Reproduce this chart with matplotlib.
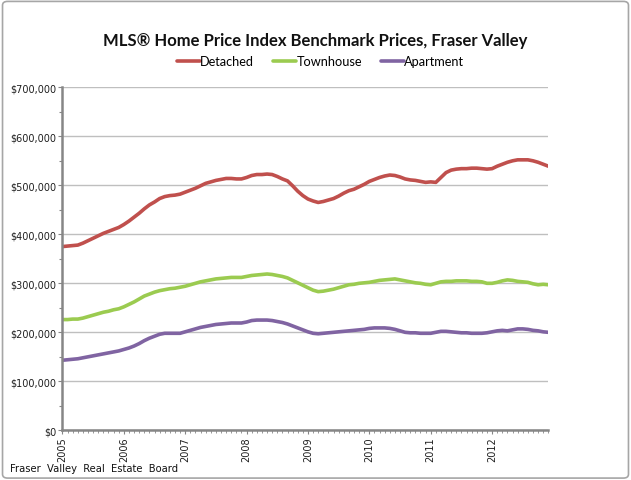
import matplotlib
matplotlib.use("Agg")
import matplotlib.pyplot as plt
from matplotlib.patches import FancyBboxPatch
from matplotlib.ticker import MultipleLocator, FuncFormatter

# ── Data (monthly benchmark prices, $000s, Jan 2005 – Dec 2012) ──────────
years = ["2005", "2006", "2007", "2008", "2009", "2010", "2011", "2012"]

detached = [375, 376, 377, 378, 382, 387, 392, 397, 402, 406, 410, 414,
            420, 427, 435, 443, 452, 460, 466, 473, 477, 479, 480, 482,
            486, 490, 494, 499, 504, 507, 510, 512, 514, 514, 513, 513,
            516, 520, 522, 522, 523, 522, 518, 513, 509, 499, 488, 479,
            472, 468, 465, 467, 470, 473, 478, 484, 489, 492, 497, 502,
            508, 512, 516, 519, 521, 520, 517, 513, 511, 510, 508, 506,
            507, 506, 516, 526, 531, 533, 534, 534, 535, 535, 534, 533,
            534, 539, 543, 547, 550, 552, 552, 552, 550, 547, 543, 539]

townhouse = [226, 226, 227, 227, 229, 232, 235, 238, 241, 243, 246, 248,
             252, 257, 262, 268, 274, 278, 282, 285, 287, 289, 290, 292,
             294, 297, 300, 303, 305, 307, 309, 310, 311, 312, 312, 312,
             314, 316, 317, 318, 319, 318, 316, 314, 311, 306, 301, 296,
             291, 286, 283, 284, 286, 288, 291, 294, 297, 298, 300, 301,
             302, 304, 306, 307, 308, 309, 307, 305, 303, 301, 300, 298,
             297, 300, 303, 304, 304, 305, 305, 305, 304, 304, 303, 300,
             300, 302, 305, 307, 306, 304, 303, 302, 299, 297, 298, 297]

apartment = [143, 144, 145, 146, 148, 150, 152, 154, 156, 158, 160, 162,
             165, 168, 172, 177, 183, 188, 192, 196, 198, 198, 198, 198,
             201, 204, 207, 210, 212, 214, 216, 217, 218, 219, 219, 219,
             221, 224, 225, 225, 225, 224, 222, 220, 217, 213, 209, 205,
             201, 198, 197, 198, 199, 200, 201, 202, 203, 204, 205, 206,
             208, 209, 209, 209, 208, 206, 203, 200, 199, 199, 198, 198,
             198, 200, 202, 202, 201, 200, 199, 199, 198, 198, 198, 199,
             201, 203, 204, 203, 205, 207, 207, 206, 204, 203, 201, 200]

RED    = "#C0504D"
GREEN  = "#9BCB50"
PURPLE = "#8064A2"
GRID   = "#BFBFBF"
AXIS   = "#868686"
FONT   = ["Lato", "DejaVu Sans"]

fig = plt.figure(figsize=(6.31, 4.81), dpi=100)
fig.patch.set_facecolor("white")

# outer chart frame
frame = FancyBboxPatch((0.004, 0.004), 0.992, 0.991,
                       boxstyle="round,pad=0,rounding_size=0.008",
                       transform=fig.transFigure, facecolor="none",
                       edgecolor="#A6A6A6", linewidth=1.2, zorder=-1)
fig.patches.append(frame)

ax = fig.add_axes([0.099, 0.1033, 0.770, 0.7131])
ax.patch.set_alpha(0)
months = list(range(len(detached)))
for vals, col, lab in [(detached, RED, "Detached"),
                       (townhouse, GREEN, "Townhouse"),
                       (apartment, PURPLE, "Apartment")]:
    ax.plot(months, [v * 1000 for v in vals], color=col, lw=2.6,
            label=lab, solid_capstyle="round", solid_joinstyle="round")

ax.set_xlim(0, len(detached) - 1)
ax.set_ylim(0, 700000)
ax.yaxis.set_major_locator(MultipleLocator(100000))
ax.yaxis.set_minor_locator(MultipleLocator(50000))
ax.yaxis.set_major_formatter(FuncFormatter(lambda v, p: f"${v:,.0f}"))
ax.set_xticks(range(0, len(detached), 12))
ax.set_xticklabels(years, rotation=90)
ax.xaxis.set_minor_locator(MultipleLocator(1))
ax.grid(axis="y", color=GRID, lw=1.0)
ax.set_axisbelow(True)

for s in ["top", "right"]:
    ax.spines[s].set_visible(False)
for s in ["left", "bottom"]:
    ax.spines[s].set_color(AXIS)
    ax.spines[s].set_linewidth(1.8)
ax.tick_params(axis="both", which="both", colors=AXIS, labelcolor="#1F1F1F",
               labelsize=7, length=3, width=0.8, direction="out", pad=1.5)
ax.tick_params(axis="x", which="minor", length=2.5, width=0.6)
ax.tick_params(axis="y", which="minor", length=2.5)
for t in ax.get_xticklabels() + ax.get_yticklabels():
    t.set_family(["DejaVu Sans"])

fig.text(0.5, 0.914, "MLS\u00ae Home Price Index Benchmark Prices, Fraser Valley",
         ha="center", va="center", fontsize=12, fontweight="bold",
         family=FONT, color="#111111")

leg = fig.legend(loc="center", bbox_to_anchor=(0.508, 0.871), ncol=3,
                 frameon=False, handlelength=1.8,
                 handletextpad=0.0, columnspacing=1.5,
                 prop={"family": FONT, "size": 9.2})

fig.text(0.016, 0.024, "Fraser  Valley  Real  Estate  Board", ha="left",
         va="center", fontsize=7.2, family=["DejaVu Sans"], color="#111111")

fig.savefig("out.png", dpi=100)
